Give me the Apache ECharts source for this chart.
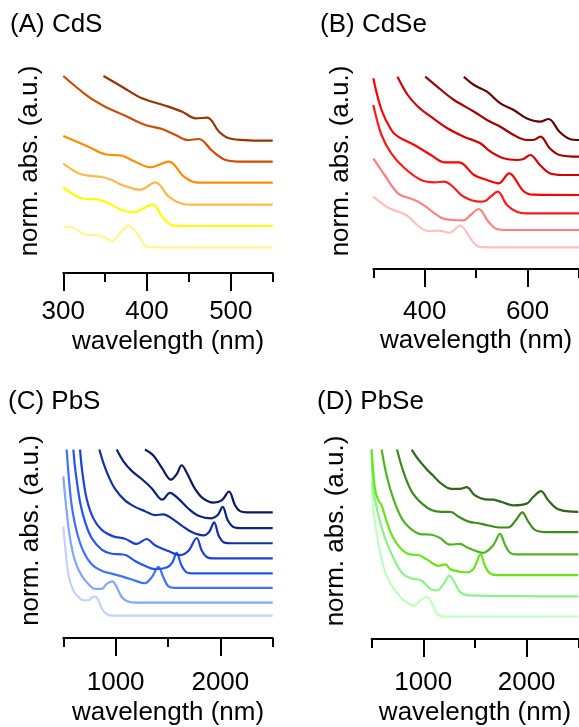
<!DOCTYPE html>
<html><head><meta charset="utf-8">
<script src="https://cdn.jsdelivr.net/npm/echarts@6/dist/echarts.min.js"></script>
<style>html,body{margin:0;padding:0;background:#fff}#c{width:579px;height:727px}</style>
</head><body><div id="c"></div>
<script>
// ---- Panel A: CdS (wavelength nm, offset normalized absorbance) ----
const cdsSpectra = [
  [[300,4.53],[308,4.6],[328,3.8],[340,3.8],[348,3.63],[358,3.2],[368,3.97],[377,4.73],[388,3.97],[400,2.63],[414,2.57],[550,2.57]],
  [[300,8.57],[326,7.4],[340,7.37],[354,6.97],[370,6.3],[384,6.07],[396,6.47],[407,6.87],[418,5.63],[432,4.73],[450,4.7],[550,4.7]],
  [[300,10.93],[318,9.97],[330,9.73],[346,9.6],[358,9.3],[370,8.8],[392,8.33],[410,9.07],[426,7.63],[442,6.93],[458,6.83],[550,6.83]],
  [[300,13.7],[330,12.63],[350,11.87],[370,11.73],[386,11.13],[404,10.57],[426,11.13],[444,9.63],[458,9.07],[474,9.03],[550,9.03]],
  [[300,19.7],[330,17.63],[350,16.63],[374,15.73],[398,14.8],[418,14.4],[434,13.8],[448,13.3],[462,13.4],[478,12.2],[494,11.3],[514,11.13],[550,11.13]],
  [[348,19.7],[370,18.63],[394,17.47],[422,16.73],[442,16.13],[458,15.47],[472,15.53],[486,14.13],[498,13.47],[522,13.27],[550,13.23]]
];
const cdsColors = ['#FFF68F','#FFFF00','#FFB84D','#FF8C00','#CC4C02','#993300'];
const cdsMajor = [300,400,500];
const cdsMinor = [350,450,550];

// ---- Panel B: CdSe ----
const cdseSpectra = [
  [[300,7.63],[329,6.53],[364,5.8],[387,4.73],[406,4.2],[428,4.23],[448,4.03],[469,4.73],[489,3.47],[505,2.63],[528,2.57],[700,2.57]],
  [[300,11.47],[322,9.8],[348,7.97],[380,7.3],[396,6.87],[432,5.53],[457,5.3],[476,5.27],[489,5.8],[505,6.4],[524,5.13],[540,4.4],[560,4.3],[700,4.3]],
  [[300,16.8],[316,13.8],[335,11.97],[361,10.47],[393,9.3],[419,9.07],[438,9.13],[451,8.8],[476,7.63],[508,7.13],[518,7.2],[528,7.63],[542,8.13],[560,6.8],[579,6.13],[598,5.97],[700,5.97]],
  [[300,19.47],[316,16.3],[335,14.3],[348,13.63],[380,12.8],[412,11.8],[438,11.07],[467,11.07],[496,9.8],[521,9.3],[544,8.97],[564,9.97],[592,8.2],[611,7.83],[700,7.8]],
  [[347,19.63],[367,17.8],[387,16.63],[412,15.63],[444,14.47],[476,13.63],[508,12.97],[528,12.13],[553,11.47],[579,11.3],[592,11.4],[605,11.8],[624,10.8],[643,9.97],[669,9.8],[700,9.8]],
  [[401,19.63],[432,18.3],[457,17.3],[496,16.13],[521,15.3],[547,14.63],[573,13.8],[598,13.3],[611,13.3],[625,13.63],[643,12.47],[662,11.8],[700,11.63]],
  [[476,19.63],[496,18.8],[521,18.13],[547,16.97],[573,16.3],[598,15.47],[624,15.13],[641,15.4],[662,14.13],[682,13.4],[700,13.3]]
];
const cdseColors = ['#FFC0C0','#FF8080','#FF1A1A','#FF0000','#D40000','#A00000','#660000'];
const cdseMajor = [400,600];
const cdseMinor = [300,500,700];

// ---- Panel C: PbS ----
const pbsSpectra = [
  [[500,11.34],[526,8.5],[554,6.17],[596,4.84],[644,4.17],[691,3.84],[739,3.84],[771,4.1],[803,4.24],[835,3.84],[867,3.0],[914,2.44],[978,2.27],[2500,2.27]],
  [[500,16.44],[526,13.5],[564,10.17],[612,7.84],[675,6.34],[739,5.5],[803,5.0],[867,5.0],[914,5.5],[968,5.77],[1010,5.17],[1058,4.17],[1105,3.77],[1185,3.6],[2500,3.6]],
  [[532,19.17],[554,16.17],[580,13.5],[628,10.84],[691,8.84],[771,7.5],[867,6.84],[978,6.5],[1089,6.17],[1185,5.84],[1274,5.57],[1344,6.17],[1408,7.24],[1456,6.17],[1503,5.27],[1567,5.1],[2500,5.1]],
  [[596,19.17],[618,16.84],[660,13.84],[707,11.84],[771,10.17],[867,9.0],[962,8.57],[1058,8.5],[1105,8.4],[1185,7.84],[1280,7.34],[1376,7.0],[1487,7.17],[1541,7.67],[1583,8.67],[1624,7.5],[1669,6.74],[1726,6.57],[2500,6.57]],
  [[660,19.17],[682,16.84],[723,14.17],[787,12.17],[867,11.0],[978,10.34],[1089,10.1],[1201,9.57],[1296,10.07],[1376,9.44],[1503,8.84],[1615,8.44],[1694,8.84],[1774,10.17],[1822,8.9],[1869,8.24],[1933,8.1],[2500,8.1]],
  [[844,19.17],[882,17.84],[930,16.5],[994,15.17],[1089,14.0],[1185,13.34],[1280,12.9],[1376,12.5],[1456,12.57],[1535,12.17],[1631,11.44],[1726,10.77],[1838,10.44],[1892,10.77],[1940,11.77],[1987,10.34],[2038,9.7],[2108,9.64],[2500,9.64]],
  [[1010,19.17],[1073,18.0],[1153,17.0],[1249,16.17],[1344,15.24],[1446,14.07],[1519,14.77],[1599,14.17],[1694,13.17],[1790,12.44],[1917,12.17],[1975,12.5],[2022,13.34],[2070,12.0],[2124,11.3],[2204,11.17],[2500,11.17]],
  [[1280,19.17],[1360,18.57],[1440,17.34],[1529,16.1],[1583,16.67],[1631,17.57],[1678,16.84],[1758,15.17],[1838,14.17],[1933,13.77],[2013,14.0],[2083,14.9],[2140,13.5],[2188,12.9],[2251,12.77],[2500,12.77]]
];
const pbsColors = ['#C2D2FF','#80A6FF','#4070FF','#2455F2','#1A40D9','#12309F','#0C2478','#0A1A5C'];
const pbsMajor = [1000,2000];
const pbsMinor = [500,1500,2500];

// ---- Panel D: PbSe ----
const pbseSpectra = [
  [[500,15.94],[520,12.94],[568,9.6],[617,7.27],[665,5.94],[730,4.94],[794,4.1],[859,3.6],[907,3.37],[971,3.94],[1036,4.27],[1084,3.6],[1133,2.6],[1197,2.27],[2500,2.27]],
  [[500,19.27],[517,15.27],[565,12.6],[630,10.27],[710,8.27],[791,6.77],[871,6.2],[971,6.0],[1020,5.6],[1068,5.1],[1133,4.94],[1197,5.6],[1252,6.44],[1310,5.6],[1358,4.77],[1439,4.44],[2500,4.34]],
  [[500,19.27],[533,15.27],[565,14.1],[597,13.6],[646,11.94],[710,10.27],[791,9.1],[871,8.6],[952,8.54],[1033,8.1],[1149,7.44],[1213,7.6],[1262,7.1],[1355,6.84],[1420,6.77],[1484,7.1],[1555,8.6],[1597,7.44],[1645,6.67],[1710,6.5],[2500,6.5]],
  [[597,19.27],[646,16.6],[710,14.27],[791,12.27],[871,11.27],[968,10.67],[1081,10.6],[1162,10.27],[1258,9.6],[1358,9.67],[1420,9.34],[1581,8.77],[1677,9.54],[1742,10.7],[1790,9.6],[1839,8.77],[1903,8.6],[2500,8.6]],
  [[746,19.27],[810,16.94],[891,14.94],[988,13.77],[1084,13.1],[1181,12.94],[1262,12.94],[1342,12.44],[1439,11.94],[1536,11.77],[1632,11.54],[1742,11.34],[1823,11.34],[1897,12.1],[1958,12.87],[2016,11.94],[2080,11.1],[2193,10.87],[2500,10.87]],
  [[888,19.27],[952,18.27],[1033,17.27],[1097,16.6],[1178,15.77],[1274,15.27],[1355,15.27],[1420,15.44],[1500,14.6],[1597,14.2],[1677,14.17],[1758,13.94],[1871,13.6],[2000,13.77],[2064,14.44],[2138,15.04],[2209,14.1],[2290,13.27],[2387,13.0],[2500,12.94]]
];
const pbseColors = ['#BFFFBF','#8CF28C','#66E619','#52B322','#3D8C1A','#2E661A'];
const pbseMajor = [1000,2000];
const pbseMinor = [500,1500,2500];

const FONT = '"Liberation Sans", Arial, Helvetica, sans-serif';
const panels = [
  {title:'(A) CdS', tl:10, tt:12, spectra:cdsSpectra, colors:cdsColors, xMin:300, xMax:550, major:cdsMajor, minor:cdsMinor,
   grid:{left:63.3, top:49, width:209.4, height:224}, yMin:0, yMax:22.4, lm:26, ng:55.5, yng:20},
  {title:'(B) CdSe', tl:320, tt:12, spectra:cdseSpectra, colors:cdseColors, xMin:300, xMax:700, major:cdseMajor, minor:cdseMinor,
   grid:{left:373.3, top:53, width:208, height:216}, yMin:0.4, yMax:22.0, lm:29.7, ng:59, yng:19.3},
  {title:'(C) PbS', tl:8, tt:389, spectra:pbsSpectra, colors:pbsColors, xMin:500, xMax:2500, major:pbsMajor, minor:pbsMinor,
   grid:{left:63.3, top:423, width:209.4, height:218.7}, yMin:0, yMax:21.87, lm:32, ng:62, yng:19.3},
  {title:'(D) PbSe', tl:317, tt:389, spectra:pbseSpectra, colors:pbseColors, xMin:500, xMax:2500, major:pbseMajor, minor:pbseMinor,
   grid:{left:371.6, top:423, width:206.7, height:219.7}, yMin:0, yMax:21.97, lm:31, ng:61, yng:22.6}
];

const option = {animation:false, title:[], grid:[], xAxis:[], yAxis:[], series:[]};
panels.forEach((p, i) => {
  option.title.push({text:p.title, left:p.tl, top:p.tt, padding:0,
    textStyle:{fontSize:26, fontWeight:'normal', color:'#000', fontFamily:FONT}});
  option.grid.push(Object.assign({containLabel:false}, p.grid));
  option.xAxis.push({gridIndex:i, type:'value', min:p.xMin, max:p.xMax, position:'bottom', offset:0,
    axisLine:{show:true, onZero:false, lineStyle:{color:'#000', width:2}},
    axisTick:{show:true, length:18, customValues:p.major, lineStyle:{color:'#000', width:2}},
    axisLabel:{show:true, customValues:p.major, margin:p.lm, fontSize:26, color:'#000', fontFamily:FONT,
      formatter: v => String(Math.round(v))},
    splitLine:{show:false},
    name:'wavelength (nm)', nameLocation:'middle', nameGap:p.ng,
    nameTextStyle:{fontSize:26, color:'#000', fontFamily:FONT}});
  option.xAxis.push({gridIndex:i, type:'value', min:p.xMin, max:p.xMax, position:'bottom', offset:0,
    axisLine:{show:false, onZero:false},
    axisTick:{show:true, length:9, customValues:p.minor, lineStyle:{color:'#000', width:2}},
    axisLabel:{show:false}, splitLine:{show:false}});
  option.yAxis.push({gridIndex:i, type:'value', min:p.yMin, max:p.yMax,
    axisLine:{show:false}, axisTick:{show:false}, axisLabel:{show:false}, splitLine:{show:false},
    name:'norm. abs. (a.u.)', nameLocation:'middle', nameRotate:90, nameGap:p.yng,
    nameTextStyle:{fontSize:26, color:'#000', fontFamily:FONT}});
  p.spectra.forEach((s, k) => {
    option.series.push({type:'line', xAxisIndex:2*i, yAxisIndex:i, data:s, showSymbol:false, smooth:0.35,
      silent:true, lineStyle:{color:p.colors[k], width:2.2}, itemStyle:{color:p.colors[k]}, z:2});
  });
});
const chart = echarts.init(document.getElementById('c'), null, {renderer:'canvas'});
chart.setOption(option);
</script></body></html>
